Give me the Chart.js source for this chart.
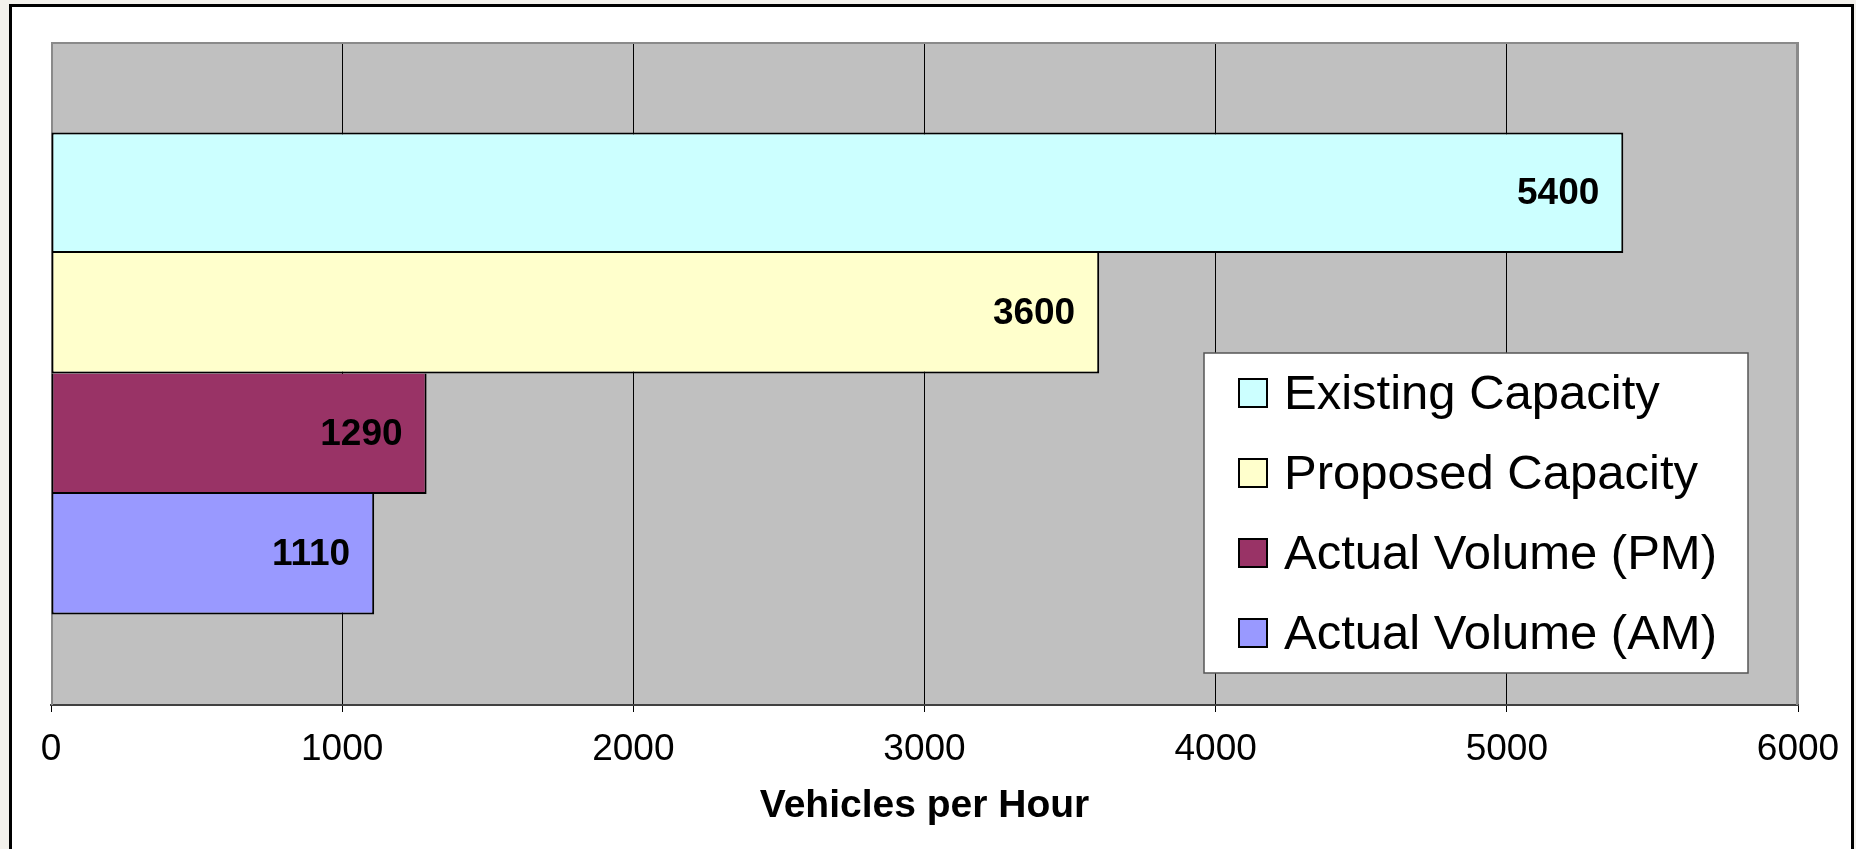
<!DOCTYPE html>
<html>
<head>
<meta charset="utf-8">
<script src="https://cdn.jsdelivr.net/npm/chart.js@4/dist/chart.umd.min.js"></script>
<style>
  html, body { margin: 0; padding: 0; background: #f3f1ec; overflow: hidden; }
  .frame { position: absolute; left: 9px; top: 4px; width: 1839px; height: 900px; border: 3px solid #000; background: #fff; }
  .wrap { position: absolute; left: 0; top: 0; width: 1856px; height: 849px; }
</style>
</head>
<body>
<div class="frame"></div>
<div class="wrap"><canvas id="chart"></canvas></div>
<script>
// --- data ---
const categories = ['Capacity vs Volume'];
const seriesLabels = ['Existing Capacity', 'Proposed Capacity', 'Actual Volume (PM)', 'Actual Volume (AM)'];
const existingCapacity = [5400];
const proposedCapacity = [3600];
const actualVolumePM = [1290];
const actualVolumeAM = [1110];
const xTickValues = [0, 1000, 2000, 3000, 4000, 5000, 6000];
const axisTitle = 'Vehicles per Hour';

const seriesValues = [existingCapacity, proposedCapacity, actualVolumePM, actualVolumeAM];
const seriesColors = ['#ccffff', '#ffffcc', '#993366', '#9999ff'];

const FONT = 'Arial, "Liberation Sans", sans-serif';
Chart.defaults.font.family = FONT;
Chart.defaults.color = '#000';

// grey plot area with a thin grey frame, like the old spreadsheet look
const plotFrame = {
  id: 'plotFrame',
  beforeDraw(chart) {
    const { ctx, chartArea: a } = chart;
    ctx.save();
    ctx.fillStyle = '#c0c0c0';
    ctx.fillRect(a.left, a.top, a.right - a.left, a.bottom - a.top);
    ctx.restore();
  },
  beforeDatasetsDraw(chart) {
    const { ctx, chartArea: a } = chart;
    ctx.save();
    ctx.strokeStyle = '#8a8a8a';
    ctx.lineWidth = 2;
    ctx.beginPath();
    ctx.moveTo(a.left + 1, a.bottom);
    ctx.lineTo(a.left + 1, a.top + 1);
    ctx.lineTo(a.right - 1, a.top + 1);
    ctx.lineTo(a.right - 1, a.bottom);
    ctx.stroke();
    ctx.restore();
  },
};

// value written inside the end of each bar
const barLabels = {
  id: 'barLabels',
  afterDatasetsDraw(chart) {
    const { ctx } = chart;
    ctx.save();
    ctx.font = 'bold 37px ' + FONT;
    ctx.fillStyle = '#000';
    ctx.textAlign = 'right';
    ctx.textBaseline = 'middle';
    chart.data.datasets.forEach((ds, i) => {
      chart.getDatasetMeta(i).data.forEach((bar, j) => {
        ctx.fillText(String(ds.data[j]), bar.x - 24, bar.y + 1);
      });
    });
    ctx.restore();
  },
};

// boxed legend sitting inside the plot area
const boxLegend = {
  id: 'boxLegend',
  afterDraw(chart) {
    const { ctx, chartArea: a } = chart;
    const w = 544, h = 320;
    const x = a.right - 50 - w, y = a.top + 311;
    ctx.save();
    ctx.fillStyle = '#fff';
    ctx.fillRect(x, y, w, h);
    ctx.strokeStyle = '#555';
    ctx.lineWidth = 1.5;
    ctx.strokeRect(x, y, w, h);
    ctx.font = '49px ' + FONT;
    ctx.textBaseline = 'middle';
    chart.data.datasets.forEach((ds, i) => {
      const cy = y + 40 + i * 80;
      ctx.fillStyle = ds.backgroundColor;
      ctx.fillRect(x + 35, cy - 14, 28, 28);
      ctx.lineWidth = 2;
      ctx.strokeStyle = '#000';
      ctx.strokeRect(x + 35, cy - 14, 28, 28);
      ctx.fillStyle = '#000';
      ctx.fillText(ds.label, x + 80, cy + 2);
    });
    ctx.restore();
  },
};

const lastTick = xTickValues.length - 1;

new Chart(document.getElementById('chart'), {
  type: 'bar',
  data: {
    labels: categories,
    datasets: seriesLabels.map((label, i) => ({
      label,
      data: seriesValues[i],
      backgroundColor: seriesColors[i],
      borderColor: '#000',
      borderWidth: 2,
      borderSkipped: i === 0 ? false : 'top',
      barPercentage: 1,
      categoryPercentage: 0.727,
    })),
  },
  options: {
    indexAxis: 'y',
    responsive: true,
    maintainAspectRatio: false,
    animation: false,
    layout: { padding: { left: 51, top: 42, right: 58, bottom: 0 } },
    plugins: { legend: { display: false }, tooltip: { enabled: false } },
    scales: {
      x: {
        min: xTickValues[0],
        max: xTickValues[lastTick],
        afterBuildTicks: (s) => { s.ticks = xTickValues.map((v) => ({ value: v })); },
        afterFit: (s) => { s.height = 144; },
        ticks: { color: '#000', font: { size: 37 }, padding: 16, maxRotation: 0, callback: (v) => String(v) },
        grid: {
          color: (c) => (c.index === 0 || c.index === lastTick ? '#8a8a8a' : '#000'),
          lineWidth: 1,
          tickColor: '#000',
          tickLength: 7,
        },
        border: { color: '#404040', width: 2 },
        title: {
          display: true,
          text: axisTitle,
          color: '#000',
          font: { size: 39, weight: 'bold' },
          padding: { top: 0, bottom: 19 },
        },
      },
      y: { display: false },
    },
  },
  plugins: [plotFrame, barLabels, boxLegend],
});
</script>
</body>
</html>
